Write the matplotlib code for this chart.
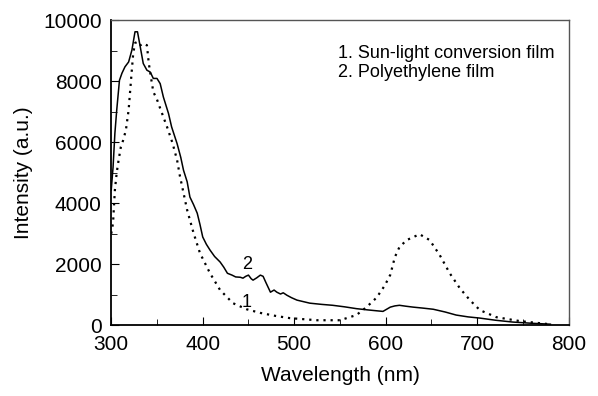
import matplotlib.pyplot as plt
from matplotlib.ticker import MultipleLocator

plt.rcParams['font.family'] = ['Liberation Sans', 'DejaVu Sans']

# curve 1: sun-light conversion film (dotted)
wl_film = [300, 302, 303, 304, 306, 308, 310.5, 313, 316, 319, 321, 322.5, 324,
           326, 329, 333, 337, 339, 341, 343, 346, 350, 353, 361, 367, 372, 375,
           383, 390, 397, 408, 419, 433, 448, 463, 480, 495, 525, 550, 568, 579,
           590, 599, 605, 610, 615, 623, 637, 648, 659, 670, 681, 692, 703, 721,
           747, 779]
int_film = [3000, 3350, 3900, 4430, 5000, 5400, 5840, 6060, 6390, 7050, 7800,
            8360, 8900, 9250, 9300, 9150, 9200, 9180, 8600, 8200, 7650, 7400,
            7150, 6500, 5970, 5410, 4900, 3770, 3020, 2360, 1700, 1150, 720, 520,
            400, 300, 230, 160, 160, 330, 590, 900, 1300, 1650, 2230, 2560, 2790,
            2980, 2790, 2300, 1700, 1210, 820, 490, 260, 130, 30]

# curve 2: polyethylene film (solid)
wl_pe = [300, 302, 304, 306, 309, 311.7, 315, 319, 322.6, 326, 328.7, 331.7,
         335, 339, 342.6, 346, 350, 353.5, 357, 362.6, 366, 372, 376, 379, 383,
         386, 390, 394, 397, 400, 404, 408, 413, 419, 423, 427, 432, 436, 441,
         444, 447, 450, 453, 455, 459, 463, 466, 469, 474, 478, 481, 485, 488,
         492, 497, 503, 510, 517, 530, 542, 555, 568, 580, 590, 597, 601, 605,
         610, 615, 622, 630, 640, 652, 665, 677, 690, 703, 720, 739, 760, 780]
int_pe = [4430, 5180, 6290, 7050, 8030, 8260, 8470, 8630, 9020, 9620, 9620,
          9130, 8580, 8360, 8300, 8090, 8090, 7920, 7480, 6940, 6500, 5950,
          5500, 5080, 4700, 4200, 3950, 3670, 3300, 2890, 2650, 2460, 2250,
          2070, 1900, 1700, 1640, 1580, 1570, 1540, 1600, 1640, 1520, 1475,
          1550, 1640, 1600, 1400, 1080, 1150, 1080, 1020, 1060, 980, 900, 820,
          770, 720, 680, 650, 600, 540, 500, 470, 450, 520, 590, 630, 650, 620,
          590, 560, 520, 430, 330, 270, 230, 160, 100, 60, 30]

fig, ax = plt.subplots(figsize=(5.98, 3.96), dpi=100)
fig.subplots_adjust(left=0.186, right=0.951, bottom=0.179, top=0.949)

ax.plot(wl_film, int_film, color='black', linestyle=(0, (1, 2.2)), linewidth=1.6)
ax.plot(wl_pe, int_pe, color='black', linewidth=1.1)

ax.text(448.5, 1826, '2', fontsize=13, ha='center', va='baseline')
ax.text(447.5, 600, '1', fontsize=13, ha='center', va='baseline')
ax.text(548, 8764, '1. Sun-light conversion film', fontsize=13, va='baseline')
ax.text(548, 8141, '2. Polyethylene film', fontsize=13, va='baseline')

ax.set_xlim(300, 800)
ax.set_ylim(0, 10000)
ax.xaxis.set_major_locator(MultipleLocator(100))
ax.xaxis.set_minor_locator(MultipleLocator(50))
ax.yaxis.set_major_locator(MultipleLocator(2000))
ax.yaxis.set_minor_locator(MultipleLocator(1000))
ax.tick_params(which='both', direction='in', labelsize=15)
ax.tick_params(axis='x', pad=7)
ax.tick_params(axis='y', pad=7)
ax.tick_params(which='major', length=6)
ax.tick_params(which='minor', length=4)
for s in ['top', 'right']:
    ax.spines[s].set_color('#555555')
    ax.spines[s].set_linewidth(1.0)
for s in ['left', 'bottom']:
    ax.spines[s].set_linewidth(1.3)

ax.set_xlabel('Wavelength (nm)', fontsize=15, labelpad=9)
ax.set_ylabel('Intensity (a.u.)', fontsize=15, labelpad=7)

fig.savefig('out.png', dpi=100)
